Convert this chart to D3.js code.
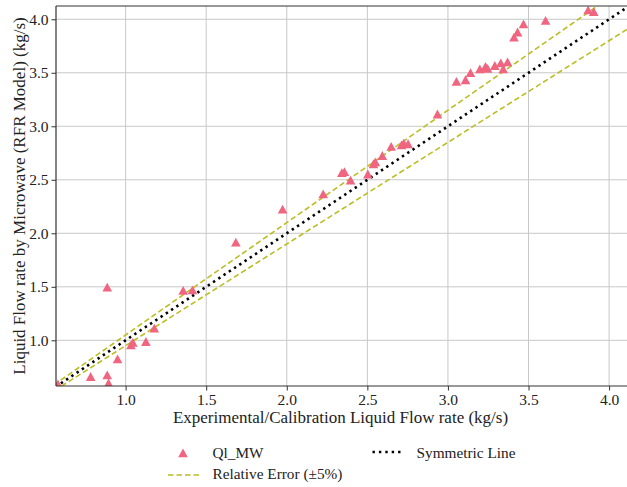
<!DOCTYPE html>
<html>
<head>
<meta charset="utf-8">
<script src="https://cdn.jsdelivr.net/npm/d3@7"></script>
<style>
html,body{margin:0;padding:0;background:#fff;}
svg{display:block;font-family:"Liberation Serif","Times New Roman",serif;}
</style>
</head>
<body>
<svg id="chart" width="627" height="487"></svg>
<script>
const experimental = [0.58,0.783,0.886,0.886,0.894,0.95,1.033,1.045,1.126,1.178,1.357,1.415,1.684,1.974,2.226,2.342,2.358,2.396,2.503,2.538,2.55,2.593,2.648,2.712,2.726,2.753,2.935,3.053,3.109,3.14,3.198,3.233,3.246,3.291,3.328,3.343,3.37,3.41,3.432,3.469,3.606,3.87,3.905];
const predicted    = [0.59,0.66,1.495,0.676,0.60,0.825,0.956,0.978,0.987,1.112,1.464,1.47,1.916,2.224,2.366,2.565,2.575,2.495,2.552,2.648,2.665,2.725,2.81,2.825,2.84,2.835,3.113,3.417,3.433,3.50,3.535,3.557,3.54,3.566,3.59,3.535,3.60,3.832,3.879,3.956,3.987,4.085,4.07];
const xTicks = [1.0,1.5,2.0,2.5,3.0,3.5,4.0];
const yTicks = [1.0,1.5,2.0,2.5,3.0,3.5,4.0];
const xDomain = [0.568, 4.105];
const yDomain = [0.573, 4.124];
const errorBand = [1.05, 0.95];
const legendLabels = ["Ql_MW","Relative Error (\u00b15%)","Symmetric Line"];
const xLabel = "Experimental/Calibration Liquid Flow rate (kg/s)";
const yLabel = "Liquid Flow rate by Microwave (RFR Model) (kg/s)";

const svg = d3.select("#chart");
const L = 56, R = 626, T = 6, B = 386;
const x = d3.scaleLinear().domain(xDomain).range([L, R]);
const y = d3.scaleLinear().domain(yDomain).range([B, T]);

const pink = "#f0657f", olive = "#bcbd22";

svg.append("defs").append("clipPath").attr("id","clip")
  .append("rect").attr("x",L).attr("y",T).attr("width",R-L+2).attr("height",B-T);

// grid
const grid = svg.append("g");
grid.selectAll(".gx").data(xTicks).join("line")
  .attr("x1",d=>x(d)).attr("x2",d=>x(d)).attr("y1",T).attr("y2",B)
  .attr("stroke","#c8c8c8").attr("stroke-width",1);
grid.selectAll(".gy").data(yTicks).join("line")
  .attr("y1",d=>y(d)).attr("y2",d=>y(d)).attr("x1",L).attr("x2",R+2)
  .attr("stroke","#c8c8c8").attr("stroke-width",1);

const plot = svg.append("g").attr("clip-path","url(#clip)");
const lineGen = d3.line().x(d=>x(d[0])).y(d=>y(d[1]));
const ends = [xDomain[0]-0.1, xDomain[1]+0.1];

// relative error lines
errorBand.forEach(f=>{
  plot.append("path").datum(ends.map(v=>[v, v*f])).attr("d",lineGen)
    .attr("fill","none").attr("stroke",olive).attr("stroke-width",1.6)
    .attr("stroke-dasharray","5.5,3");
});
// symmetric line
plot.append("path").datum(ends.map(v=>[v,v])).attr("d",lineGen)
  .attr("fill","none").attr("stroke","#000").attr("stroke-width",2.6)
  .attr("stroke-dasharray","2.4,3.9");

// markers
const tri = "M0,-4.6L4.8,4.2L-4.8,4.2Z";
plot.selectAll(".pt").data(experimental.map((v,i)=>[v,predicted[i]])).join("path")
  .attr("d",tri).attr("transform",d=>`translate(${x(d[0])},${y(d[1])})`)
  .attr("fill",pink);

// spines
svg.append("line").attr("x1",L).attr("x2",L).attr("y1",T).attr("y2",B).attr("stroke","#333").attr("stroke-width",1.2);
svg.append("line").attr("x1",L).attr("x2",627).attr("y1",B).attr("y2",B).attr("stroke","#333").attr("stroke-width",1.2);
svg.append("line").attr("x1",L).attr("x2",627).attr("y1",T).attr("y2",T).attr("stroke","#333").attr("stroke-width",1.2);

// axes
const xAxis = svg.append("g").attr("transform",`translate(0,${B})`)
  .call(d3.axisBottom(x).tickValues(xTicks).tickFormat(d3.format(".1f")).tickSize(4.5).tickPadding(3));
const yAxis = svg.append("g").attr("transform",`translate(${L},0)`)
  .call(d3.axisLeft(y).tickValues(yTicks).tickFormat(d3.format(".1f")).tickSize(4.5).tickPadding(3));
[xAxis,yAxis].forEach(a=>{
  a.select(".domain").remove();
  a.selectAll(".tick line").attr("stroke","#333");
  a.selectAll(".tick text").attr("fill","#222").style("font-size","15.5px").style("font-family","Liberation Serif");
});

// axis labels
svg.append("text").attr("x",(L+R)/2-0.5).attr("y",423).attr("text-anchor","middle")
  .style("font-size","17px").attr("fill","#222").text(xLabel);
svg.append("text").attr("transform",`translate(24.5,${(T+B)/2}) rotate(-90)`).attr("text-anchor","middle")
  .style("font-size","17px").attr("fill","#222").text(yLabel);

// legend
const lg = svg.append("g");
lg.append("path").attr("d",tri).attr("transform","translate(183,453)").attr("fill",pink);
lg.append("text").attr("x",212.5).attr("y",458).style("font-size","15.3px").attr("fill","#222").text(legendLabels[0]);
lg.append("line").attr("x1",168).attr("x2",200).attr("y1",475).attr("y2",475)
  .attr("stroke",olive).attr("stroke-width",1.6).attr("stroke-dasharray","5.5,3");
lg.append("text").attr("x",212.5).attr("y",479).style("font-size","15.3px").attr("fill","#222").text(legendLabels[1]);
lg.append("line").attr("x1",372.5).attr("x2",404).attr("y1",452).attr("y2",452)
  .attr("stroke","#000").attr("stroke-width",2.6).attr("stroke-dasharray","2.4,4");
lg.append("text").attr("x",416.5).attr("y",458).style("font-size","15.3px").attr("fill","#222").text(legendLabels[2]);
</script>
</body>
</html>
